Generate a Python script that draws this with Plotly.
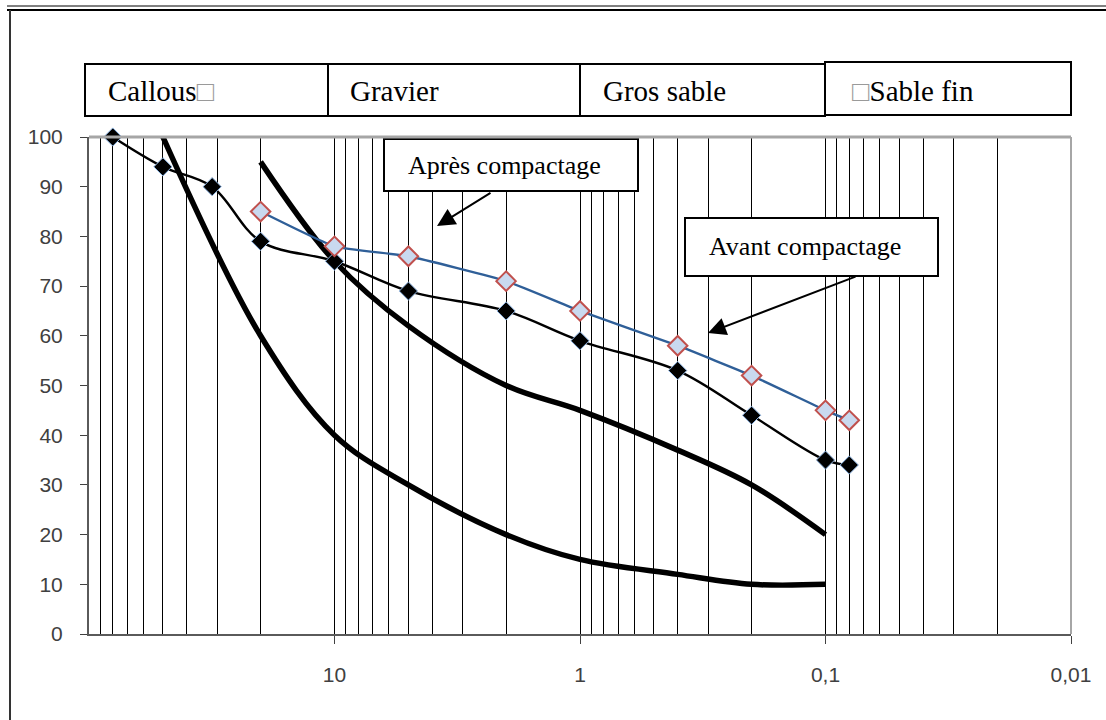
import plotly.graph_objects as go

# Sieve openings (mm) and cumulative percent passing
sieve_mix = [80, 50, 31.5, 20, 10, 5, 2, 1, 0.4, 0.2, 0.1, 0.08]
passing_mix = [100, 94, 90, 79, 75, 69, 65, 59, 53, 44, 35, 34]

sieve_comp = [20, 10, 5, 2, 1, 0.4, 0.2, 0.1, 0.08]
passing_comp = [85, 78, 76, 71, 65, 58, 52, 45, 43]

# Specification envelope (upper and lower limits)
sieve_upper = [20, 10, 5, 2, 1, 0.4, 0.2, 0.1]
passing_upper = [95, 75, 62, 50, 45, 37, 30, 20]

sieve_lower = [50, 20, 10, 5, 2, 1, 0.4, 0.2, 0.1]
passing_lower = [100, 60, 40, 30, 20, 15, 12, 10, 10]

x_ticks = [10, 1, 0.1, 0.01]
x_tick_labels = ["10", "1", "0,1", "0,01"]
y_ticks = list(range(0, 101, 10))

# minor log gridlines: 2..9 within each decade
x_minor = [k * d for d in (10, 1, 0.1, 0.01) for k in range(2, 10)]

GLYPH = "<span style='color:#9a9a9a'>\u25a1</span>"
class_labels = ["Callous" + GLYPH, "Gravier", "Gros sable", GLYPH + "Sable fin"]

# page geometry (pixels)
W, H = 1106, 720
L, R, T, B = 89, 35, 137, 86
PW, PH = W - L - R, H - T - B


def px(x):
    return (x - L) / PW


def py(y):
    return (H - B - y) / PH


SERIF = "Liberation Serif"
SANS = "Liberation Sans, Arial, sans-serif"

fig = go.Figure()

fig.add_trace(go.Scatter(
    x=sieve_lower, y=passing_lower, mode="lines",
    line=dict(color="black", width=5.5, shape="spline", smoothing=1),
    name="Limite inférieure", cliponaxis=False))
fig.add_trace(go.Scatter(
    x=sieve_upper, y=passing_upper, mode="lines",
    line=dict(color="black", width=5.5, shape="spline", smoothing=1),
    name="Limite supérieure", cliponaxis=False))
fig.add_trace(go.Scatter(
    x=sieve_mix, y=passing_mix, mode="lines+markers",
    line=dict(color="black", width=2.4, shape="spline", smoothing=1),
    marker=dict(symbol="diamond", size=14, color="black",
                line=dict(color="#8db4e2", width=1)),
    name="Avant compactage", cliponaxis=False))
fig.add_trace(go.Scatter(
    x=sieve_comp, y=passing_comp, mode="lines+markers",
    line=dict(color="#2f5f98", width=2.4, shape="spline", smoothing=0.4),
    marker=dict(symbol="diamond", size=15, color="#c9d9ef",
                line=dict(color="#c0504d", width=2)),
    name="Après compactage", cliponaxis=False))

shapes = []
# grain-size class boxes above the plot
class_edges = [(85, 328, 64, 116), (328, 580, 64, 116),
               (580, 825, 64, 116), (825, 1071, 62, 115)]
for x0, x1, y0, y1 in class_edges:
    shapes.append(dict(type="rect", xref="paper", yref="paper",
                       x0=px(x0), x1=px(x1), y0=py(y1), y1=py(y0),
                       line=dict(color="black", width=2), layer="above"))

# callout boxes
for x0, x1, y0, y1 in [(384, 638, 139, 191), (685, 938, 218, 276)]:
    shapes.append(dict(type="rect", xref="paper", yref="paper",
                       x0=px(x0), x1=px(x1), y0=py(y1), y1=py(y0),
                       fillcolor="white",
                       line=dict(color="black", width=2), layer="above"))

# plot border on top and right
shapes.append(dict(type="line", xref="paper", yref="paper",
                   x0=0, x1=1, y0=1, y1=1,
                   line=dict(color="#a6a6a6", width=3), layer="above"))
shapes.append(dict(type="line", xref="paper", yref="paper",
                   x0=1, x1=1, y0=0, y1=1,
                   line=dict(color="#a6a6a6", width=2), layer="above"))

# page frame
shapes.append(dict(type="line", xref="paper", yref="paper",
                   x0=px(7), x1=px(W), y0=py(6), y1=py(6),
                   line=dict(color="black", width=1)))
shapes.append(dict(type="line", xref="paper", yref="paper",
                   x0=px(7), x1=px(W), y0=py(10), y1=py(10),
                   line=dict(color="black", width=2)))
shapes.append(dict(type="line", xref="paper", yref="paper",
                   x0=px(10), x1=px(10), y0=py(10), y1=py(H),
                   line=dict(color="#333333", width=2)))

annotations = []
for label, xs in zip(class_labels, [106, 348, 601, 850]):
    annotations.append(dict(text=label, xref="paper", yref="paper",
                            x=px(xs), y=py(91), xanchor="left", yanchor="middle",
                            showarrow=False,
                            font=dict(family=SERIF, size=29, color="black")))

for label, xs, yc in [("Après compactage", 406, 165), ("Avant compactage", 707, 246)]:
    annotations.append(dict(text=label, xref="paper", yref="paper",
                            x=px(xs), y=py(yc), xanchor="left", yanchor="middle",
                            showarrow=False,
                            font=dict(family=SERIF, size=26, color="black")))

for tip, tail in [((437, 226), (492, 192)), ((708, 333), (857, 276))]:
    annotations.append(dict(text="", xref="paper", yref="paper",
                            x=px(tip[0]), y=py(tip[1]),
                            ax=tail[0] - tip[0], ay=tail[1] - tip[1],
                            showarrow=True, arrowhead=2, arrowsize=1.8,
                            arrowwidth=2, arrowcolor="black"))

fig.update_layout(
    width=W, height=H,
    margin=dict(l=L, r=R, t=T, b=B, pad=0),
    paper_bgcolor="white", plot_bgcolor="white",
    showlegend=False,
    shapes=shapes, annotations=annotations,
    xaxis=dict(
        type="log", range=[2, -2], autorange=False,
        tickmode="array", tickvals=x_ticks, ticktext=x_tick_labels,
        ticks="outside", ticklen=8, tickcolor="#404040", tickwidth=1,
        ticklabelstandoff=13,
        showgrid=True, gridcolor="black", gridwidth=1,
        minor=dict(tickmode="array", tickvals=x_minor, showgrid=True,
                   gridcolor="black", gridwidth=1, ticks=""),
        showline=True, linecolor="#5a5a5a", linewidth=2,
        zeroline=False,
        tickfont=dict(family=SANS, size=21, color="#404040"),
    ),
    yaxis=dict(
        range=[0, 100], autorange=False,
        tickmode="array", tickvals=y_ticks,
        ticks="outside", ticklen=7, tickcolor="#404040", tickwidth=1,
        ticklabelstandoff=13,
        showgrid=False, zeroline=False,
        showline=True, linecolor="#5a5a5a", linewidth=2,
        tickfont=dict(family=SANS, size=21, color="#404040"),
    ),
)

fig.write_html("out.html")
